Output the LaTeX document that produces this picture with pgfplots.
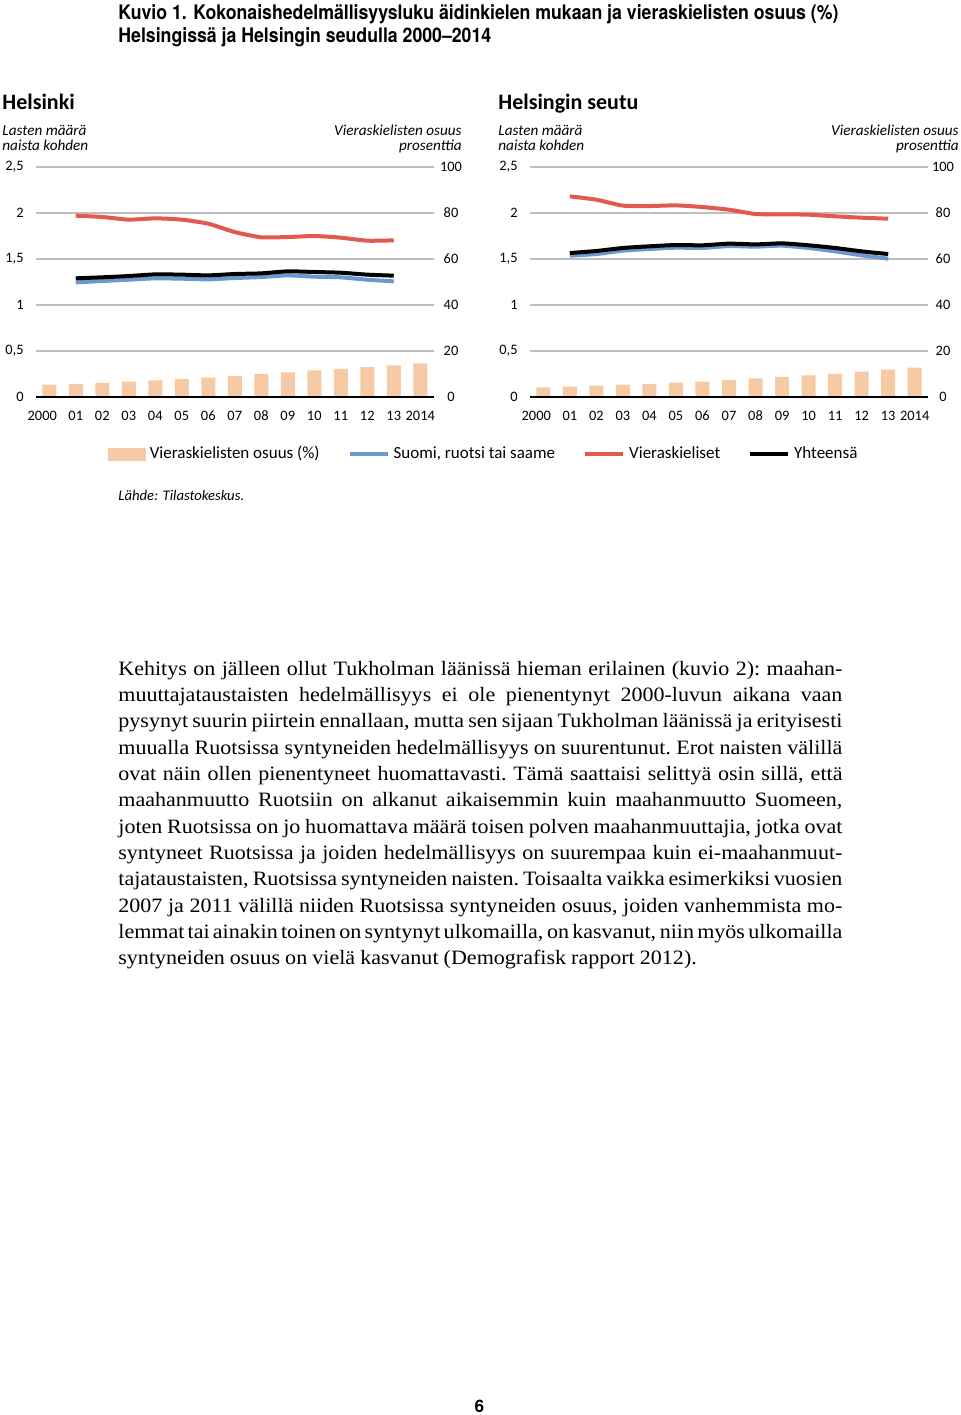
\documentclass[border=0pt]{standalone}
\usepackage{fontspec}
\setmainfont{Carlito}
\newfontfamily\titlefont[FakeStretch=0.885]{TeX Gyre Heros}
\newfontfamily\bodyfont[FakeStretch=1.08]{Liberation Serif}
\newfontfamily\pagefont{TeX Gyre Heros}
\newcommand\bodyfmt{\bodyfont\fontsize{10.2}{13}\selectfont\spaceskip=0.25em plus 0.5em minus 0.16em\relax\xspaceskip=\spaceskip\relax}
\usepackage{pgfplots}
\usepackage{pgfplotstable}
\pgfplotsset{compat=1.18}
\definecolor{barc}{HTML}{F5CAA5}
\definecolor{redc}{HTML}{E2594F}
\definecolor{bluec}{HTML}{6A98D0}
\definecolor{gridc}{HTML}{BEBEBE}

\pgfplotstableread{
x hel seu
0 5.4 4.2
1 5.7 4.5
2 6.1 4.9
3 6.7 5.4
4 7.2 5.7
5 7.8 6.2
6 8.4 6.7
7 9.1 7.4
8 10.0 8.1
9 10.7 8.7
10 11.6 9.4
11 12.2 10.1
12 13.0 11.0
13 13.8 11.9
14 14.6 12.8
}\bars

\pgfplotstableread{
x blue red black
1 1.246 1.971 1.290
2 1.261 1.957 1.301
3 1.275 1.928 1.315
4 1.290 1.942 1.333
5 1.286 1.928 1.330
6 1.279 1.884 1.322
7 1.293 1.793 1.337
8 1.304 1.736 1.344
9 1.322 1.739 1.366
10 1.308 1.750 1.359
11 1.301 1.732 1.351
12 1.275 1.699 1.330
13 1.257 1.703 1.319
}\hel

\pgfplotstableread{
x blue red black
1 1.536 2.181 1.565
2 1.554 2.145 1.587
3 1.591 2.080 1.620
4 1.609 2.076 1.638
5 1.623 2.083 1.652
6 1.620 2.065 1.649
7 1.641 2.036 1.667
8 1.634 1.989 1.659
9 1.645 1.986 1.670
10 1.620 1.982 1.649
11 1.583 1.964 1.620
12 1.540 1.949 1.583
13 1.504 1.938 1.554
}\seu

\pgfplotsset{
  base/.style={scale only axis, width=198.75pt, height=115pt,
    xmin=-0.5, xmax=14.5, major tick length=0pt,
    tick label style={font=\fontsize{7.2}{8}\selectfont},
    /pgf/number format/assume math mode=true},
  barax/.style={base, ymin=0, ymax=100,
    axis x line*=bottom, axis y line*=right, axis line style={draw=none},
    ytick={0,20,40,60,80,100}, ymajorgrids, grid style={gridc, line width=0.6pt},
    xtick={0,...,14},
    xticklabels={{\kern-7pt 2000},01,02,03,04,05,06,07,08,09,10,11,12,13,2014},
    xticklabel style={inner sep=0pt, anchor=base, yshift=-11.6pt},
    yticklabel style={inner sep=0pt, anchor=center, xshift=#1}},
  barax/.default=8.5pt,
  lineax/.style={base, ymin=0, ymax=2.5,
    axis x line*=bottom, axis y line*=left,
    y axis line style={draw=none}, x axis line style={black, line width=0.9pt},
    xtick=\empty, ytick={0,0.5,1,1.5,2,2.5},
    yticklabel style={inner sep=0pt, anchor=east, xshift=-6pt,
      /pgf/number format/use comma}},
  ln/.style={line width=2pt, smooth, tension=0.35, line join=round},
}

\begin{document}
\begin{tikzpicture}
\path[use as bounding box] (0pt,0pt) rectangle (480pt,-707.5pt);

% title
\node[anchor=base west, inner sep=0pt] at (59pt,-9.75pt)
  {\titlefont\bfseries\fontsize{10}{12}\selectfont Kuvio 1. Kokonaishedelmällisyysluku äidinkielen mukaan ja vieraskielisten osuus (\%)};
\node[anchor=base west, inner sep=0pt] at (59pt,-21pt)
  {\titlefont\bfseries\fontsize{10}{12}\selectfont Helsingissä ja Helsingin seudulla 2000–2014};

% panel headings
\node[anchor=base west, inner sep=0pt] at (1pt,-54.7pt) {\bfseries\fontsize{11}{13}\selectfont Helsinki};
\node[anchor=base west, inner sep=0pt] at (249pt,-54.5pt) {\bfseries\fontsize{11}{13}\selectfont Helsingin seutu};
\begin{scope}[every node/.style={inner sep=0pt, font=\itshape\fontsize{7.6}{9}\selectfont}]
\node[anchor=base west] at (1pt,-67.8pt) {Lasten määrä};
\node[anchor=base west] at (1pt,-75pt) {naista kohden};
\node[anchor=base east] at (231pt,-67.8pt) {Vieraskielisten osuus};
\node[anchor=base east] at (231pt,-75pt) {prosenttia};
\node[anchor=base west] at (249pt,-67.8pt) {Lasten määrä};
\node[anchor=base west] at (249pt,-75pt) {naista kohden};
\node[anchor=base east] at (479.5pt,-67.8pt) {Vieraskielisten osuus};
\node[anchor=base east] at (479.5pt,-75pt) {prosenttia};
\end{scope}

% Helsinki
\begin{axis}[barax=8.75pt, at={(18pt,-198.5pt)}, anchor=south west]
\addplot[ybar, bar width=7pt, fill=barc, draw=none] table[x=x, y=hel] {\bars};
\end{axis}
\begin{axis}[lineax, at={(18pt,-198.5pt)}, anchor=south west,
  legend columns=4, legend cell align=left,
  legend style={at={(0.1811,-0.248)}, anchor=west, draw=none, fill=none,
    inner sep=0pt, outer sep=0pt, font=\fontsize{8.5}{10}\selectfont,
    /tikz/every even column/.append style={column sep=12pt}},
  legend image code/.code={\draw[#1, line width=2pt] (0pt,0pt) -- (19pt,0pt);}]
\addlegendimage{legend image code/.code={\fill[barc] (0pt,-3pt) rectangle (18.5pt,3pt);}}
\addlegendentry{Vieraskielisten osuus (\%)}
\addplot[ln, bluec] table[x=x, y=blue] {\hel};
\addlegendentry{Suomi, ruotsi tai saame}
\addplot[ln, redc] table[x=x, y=red] {\hel};
\addlegendentry{Vieraskieliset}
\addplot[ln, black] table[x=x, y=black] {\hel};
\addlegendentry{Yhteensä}
\end{axis}

% Helsingin seutu
\begin{axis}[barax=7.5pt, at={(265pt,-198.5pt)}, anchor=south west, width=199pt]
\addplot[ybar, bar width=7pt, fill=barc, draw=none] table[x=x, y=seu] {\bars};
\end{axis}
\begin{axis}[lineax, at={(265pt,-198.5pt)}, anchor=south west, width=199pt]
\addplot[ln, bluec] table[x=x, y=blue] {\seu};
\addplot[ln, redc] table[x=x, y=red] {\seu};
\addplot[ln, black] table[x=x, y=black] {\seu};
\end{axis}

\node[anchor=base west, inner sep=0pt] at (59pt,-250pt) {\itshape\fontsize{7.35}{9}\selectfont Lähde: Tilastokeskus.};

% body text
\begin{scope}[every node/.style={anchor=base west, inner sep=0pt}]
\node at (59pt,-337.5pt) {\bodyfmt\makebox[362pt][s]{Kehitys on jälleen ollut Tukholman läänissä hieman erilainen (kuvio 2): maahan-}};
\node at (59pt,-350.68pt) {\bodyfmt\makebox[362pt][s]{muuttajataustaisten hedelmällisyys ei ole pienentynyt 2000-luvun aikana vaan}};
\node at (59pt,-363.86pt) {\bodyfmt\makebox[362pt][s]{pysynyt suurin piirtein ennallaan, mutta sen sijaan Tukholman läänissä ja erityisesti}};
\node at (59pt,-377.04pt) {\bodyfmt\makebox[362pt][s]{muualla Ruotsissa syntyneiden hedelmällisyys on suurentunut. Erot naisten välillä}};
\node at (59pt,-390.22pt) {\bodyfmt\makebox[362pt][s]{ovat näin ollen pienentyneet huomattavasti. Tämä saattaisi selittyä osin sillä, että}};
\node at (59pt,-403.4pt) {\bodyfmt\makebox[362pt][s]{maahanmuutto Ruotsiin on alkanut aikaisemmin kuin maahanmuutto Suomeen,}};
\node at (59pt,-416.58pt) {\bodyfmt\makebox[362pt][s]{joten Ruotsissa on jo huomattava määrä toisen polven maahanmuuttajia, jotka ovat}};
\node at (59pt,-429.76pt) {\bodyfmt\makebox[362pt][s]{syntyneet Ruotsissa ja joiden hedelmällisyys on suurempaa kuin ei-maahanmuut-}};
\node at (59pt,-442.94pt) {\bodyfmt\makebox[362pt][s]{tajataustaisten, Ruotsissa syntyneiden naisten. Toisaalta vaikka esimerkiksi vuosien}};
\node at (59pt,-456.12pt) {\bodyfmt\makebox[362pt][s]{2007 ja 2011 välillä niiden Ruotsissa syntyneiden osuus, joiden vanhemmista mo-}};
\node at (59pt,-469.3pt) {\bodyfmt\makebox[362pt][s]{lemmat tai ainakin toinen on syntynyt ulkomailla, on kasvanut, niin myös ulkomailla}};
\node at (59pt,-482.48pt) {\bodyfmt syntyneiden osuus on vielä kasvanut (Demografisk rapport 2012).};
\end{scope}

\node[anchor=base, inner sep=0pt] at (239.75pt,-706pt) {\pagefont\bfseries\fontsize{8.6}{10}\selectfont 6};
\end{tikzpicture}
\end{document}
